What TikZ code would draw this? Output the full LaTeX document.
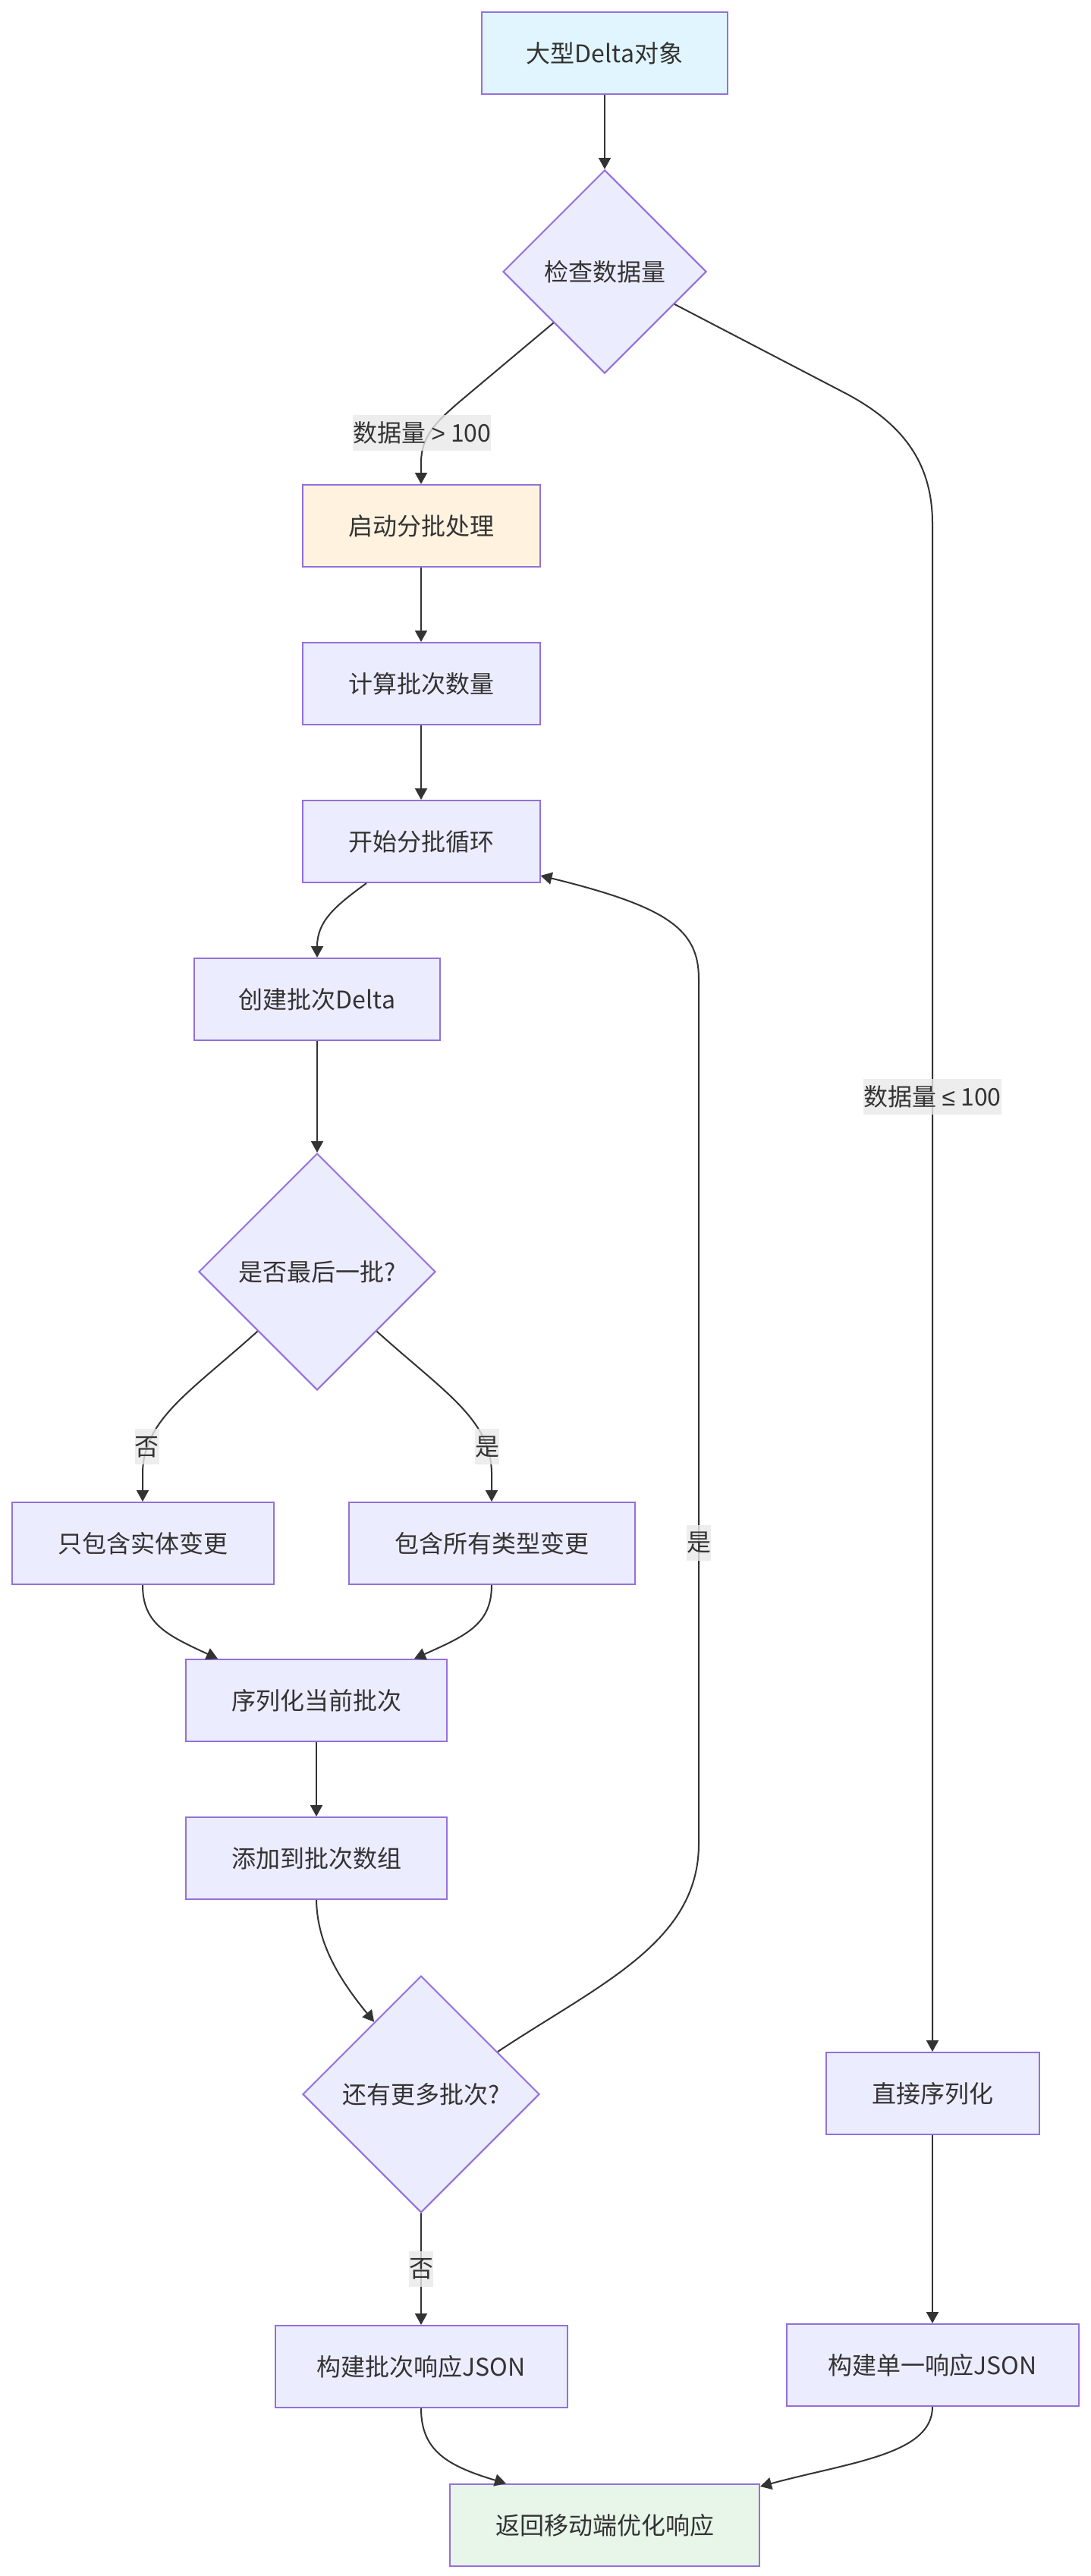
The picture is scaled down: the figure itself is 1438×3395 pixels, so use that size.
\documentclass[tikz,border=0pt]{standalone}
\usepackage{fontspec}
\usepackage{tikz}
\usetikzlibrary{arrows.meta, calc, shapes.geometric}
\newfontfamily\cjkfont{Noto Sans CJK SC}
\newfontfamily\opfont{Liberation Sans}
\definecolor{nodepurple}{RGB}{147,112,219}
\definecolor{nodefill}{RGB}{236,236,255}
\definecolor{startblue}{RGB}{225,245,254}
\definecolor{batchorange}{RGB}{255,243,224}
\definecolor{endgreen}{RGB}{232,245,233}
\definecolor{textgray}{RGB}{51,51,51}
\definecolor{labelgray}{RGB}{232,232,232}

\begin{document}
\begin{tikzpicture}[x=0.5pt, y=-0.5pt,
    every node/.style={font=\cjkfont\fontsize{16pt}{20pt}\selectfont, text=textgray},
    box/.style={rectangle, draw=nodepurple, fill=nodefill, line width=1pt, minimum height=54pt, inner sep=0pt},
    decision/.style={diamond, aspect=1, draw=nodepurple, fill=nodefill, line width=1pt, minimum width=156pt, minimum height=156pt, inner sep=0pt},
    elabel/.style={fill=labelgray, fill opacity=0.8, text opacity=1, inner xsep=0pt, inner ysep=0pt, minimum height=23.5pt},
    flow/.style={draw=textgray, line width=1pt, -{Triangle[length=7.5pt, width=8pt]}}]
                \useasboundingbox (0,0) rectangle (1438,3395);

                % Main column
                \node[box, fill=startblue, minimum width=162pt] (delta) at (797,70) {大型Delta对象};
                \node[decision, minimum width=134pt, minimum height=134pt] (check) at (797,358) {检查数据量};
                \node[box, fill=batchorange, minimum width=156.5pt] (batchstart) at (555,693) {启动分批处理};
                \node[box, minimum width=156.5pt] (count) at (555,901) {计算批次数量};
                \node[box, minimum width=156.5pt] (loop) at (555,1109) {开始分批循环};
                \node[box, minimum width=162pt] (create) at (418,1317) {创建批次Delta};
                \node[decision] (last) at (418,1676) {是否最后一批?};
                \node[box, minimum width=172.5pt] (entity) at (188,2034) {只包含实体变更};
                \node[box, minimum width=188.5pt] (alltypes) at (648,2034) {包含所有类型变更};
                \node[box, minimum width=172pt] (serialize) at (417,2241) {序列化当前批次};
                \node[box, minimum width=172pt] (append) at (417,2449) {添加到批次数组};
                \node[decision] (more) at (555,2760) {还有更多批次?};
                \node[box, minimum width=192.5pt] (batchjson) at (555,3119) {构建批次响应JSON};
                \node[box, fill=endgreen, minimum width=204pt] (result) at (797,3328) {返回移动端优化响应};

                % Small data branch
                \node[box, minimum width=140.5pt] (direct) at (1229,2759) {直接序列化};
                \node[box, minimum width=192.5pt] (singlejson) at (1229,3117) {构建单一响应JSON};

                % Edges
                \draw[flow] (delta) -- (check);
                \draw[flow] (check.south west) -- (605,530) .. controls (575,556) and (555,575) .. (555,610)
                    node[elabel, pos=0.55, xshift=-5pt] {数据量 {\opfont >} 100} -- (batchstart.north);
                \draw[flow] (check.335) -- (1110,516) .. controls (1190,557) and (1229,610) .. (1229,690)
                    -- (direct.north) node[elabel, pos=0.375] {数据量 {\opfont ≤} 100};
                \draw[flow] (batchstart) -- (count);
                \draw[flow] (count) -- (loop);
                \draw[flow] ($(loop.south)+(-72,0)$) .. controls (440,1195) and (418,1215) .. (create.north);
                \draw[flow] (create) -- (last);
                \draw[flow] (last.south west) .. controls (250,1835) and (190,1870) .. (188,1940)
                    node[elabel, pos=0.83] {否} -- (entity.north);
                \draw[flow] (last.south east) .. controls (586,1835) and (646,1870) .. (648,1940)
                    node[elabel, pos=0.83] {是} -- (alltypes.north);
                \draw[flow] (entity.south) .. controls (188,2140) and (220,2155) .. ($(serialize.north west)+(43,0)$);
                \draw[flow] (alltypes.south) .. controls (648,2140) and (616,2155) .. ($(serialize.north east)+(-44,0)$);
                \draw[flow] (serialize) -- (append);
                \draw[flow] (append.south) .. controls (418,2555) and (440,2600) .. (more.123);

                % Loop back
                \draw[flow] (more.29) .. controls (790,2615) and (921,2560) .. (921,2430) -- (921,1290)
                    node[elabel, pos=0.348] {是} .. controls (921,1225) and (880,1195) .. ($(loop.south east)+(0,-10)$);
                \draw[flow] (more) -- (batchjson) node[elabel, midway] {否};

                % Results
                \draw[flow] (direct) -- (singlejson);
                \draw[flow] (batchjson.south) .. controls (555,3230) and (590,3250) .. ($(result.north west)+(75,0)$);
                \draw[flow] (singlejson.south) .. controls (1229,3235) and (1120,3245) .. ($(result.north east)+(0,4)$);
            \end{tikzpicture}
\end{document}
